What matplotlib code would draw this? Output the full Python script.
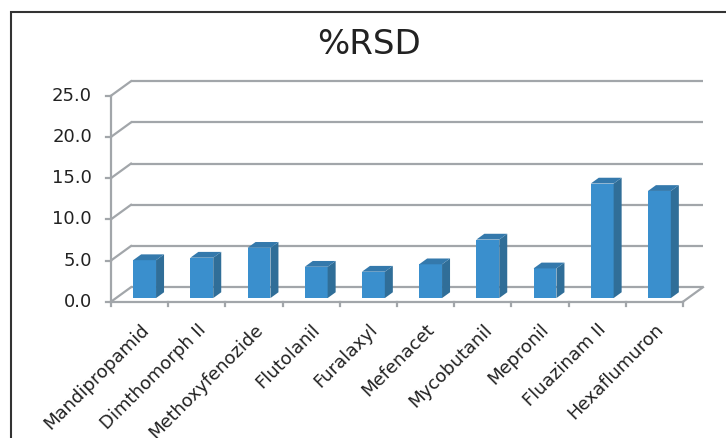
import numpy as np
import matplotlib.pyplot as plt
from matplotlib.patches import Polygon, Rectangle

# %RSD per compound
compounds = ["Mandipropamid", "Dimthomorph II", "Methoxyfenozide", "Flutolanil",
             "Furalaxyl", "Mefenacet", "Mycobutanil", "Mepronil", "Fluazinam II",
             "Hexaflumuron"]
rsd = [4.6, 4.9, 6.1, 3.8, 3.2, 4.1, 7.1, 3.6, 13.9, 13.0]
yticks = [0, 5, 10, 15, 20, 25]

W, H = 726, 438
fig = plt.figure(figsize=(W / 100, H / 100), dpi=100)

# front plane of the pseudo-3d box, in pixels
x_left, x_right = 111, 683
y_top, y_bot = 95.7, 301.7
ax = fig.add_axes([x_left / W, 1 - y_bot / H, (x_right - x_left) / W, (y_bot - y_top) / H])
n = len(compounds)
ax.set_xlim(0, n)
ax.set_ylim(0, 25)
ax.axis("off")

# depth offset of the back wall, in data units
px_x = (x_right - x_left) / n
px_y = (y_bot - y_top) / 25
DX = 20 / px_x
DY = 14.5 / px_y

grid_c = "#a2a6aa"
text_c = "#222222"
lw = 1.6

# back gridlines with their slanted ends on the left wall
for v in yticks:
    ax.plot([DX, n + DX], [v + DY, v + DY], color=grid_c, lw=lw, clip_on=False,
            solid_capstyle="butt", zorder=1)
    ax.plot([0, DX], [v, v + DY], color=grid_c, lw=lw, clip_on=False, zorder=1)
    ax.plot([-5 / px_x, 0], [v, v], color=grid_c, lw=lw, clip_on=False, zorder=1)
    ax.text(-19 / px_x, v, f"{v:.1f}", ha="right", va="center", fontsize=13,
            color=text_c)

# floor outline and category ticks
ax.plot([0, 0], [0, 25], color=grid_c, lw=lw, clip_on=False, zorder=1)
ax.plot([0, n], [0, 0], color=grid_c, lw=lw, clip_on=False, zorder=1)
ax.plot([n, n + DX], [0, DY], color=grid_c, lw=lw, clip_on=False, zorder=1)
for k in range(n + 1):
    ax.plot([k, k], [0, -4.5 / px_y], color=grid_c, lw=lw, clip_on=False, zorder=1)

# columns: front face, right side, top
front_c = "#3a8fcd"
side_c = "#306e98"
top_c = "#3479ac"
w = 0.40
f, d = 0.25, 0.40
for i, v in enumerate(rsd):
    x0 = i + 0.5 - w / 2 + f * DX
    x1 = x0 + w
    b = f * DY
    t = v + f * DY
    ax.add_patch(Polygon([(x0, b), (x1, b), (x1, t), (x0, t)], closed=True,
                         facecolor=front_c, edgecolor="none", zorder=3, clip_on=False))
    ax.add_patch(Polygon([(x1, b), (x1 + d * DX, b + d * DY), (x1 + d * DX, t + d * DY),
                          (x1, t)], closed=True, facecolor=side_c, edgecolor="none",
                         zorder=3, clip_on=False))
    ax.add_patch(Polygon([(x0, t), (x1, t), (x1 + d * DX, t + d * DY), (x0 + d * DX, t + d * DY)],
                         closed=True, facecolor=top_c, edgecolor="none", zorder=3,
                         clip_on=False))

# category labels
for i, name in enumerate(compounds):
    ax.text(i + 0.5, -19 / px_y, name, rotation=45, rotation_mode="anchor",
            ha="right", va="top", fontsize=13, color=text_c)

fig.text(369.5 / W, 1 - 45 / H, "%RSD", ha="center", va="center", fontsize=24.5,
         color=text_c)

# chart frame, running off the right and bottom edges
fig.add_artist(Rectangle((10.5 / W, -0.1), 1.0, 1 - 11.5 / H + 0.1,
                         transform=fig.transFigure, fill=False, edgecolor="#333333",
                         lw=1.5))

fig.savefig("out.png", dpi=100)
